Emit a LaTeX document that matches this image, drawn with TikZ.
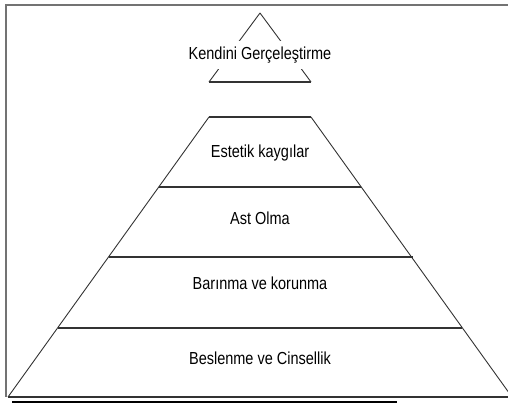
\documentclass[tikz,border=0pt]{standalone}
\usepackage{fontspec}
\setmainfont{Liberation Sans}
\newcommand{\tallText}[1]{\scalebox{1}[1.2]{#1}}

\begin{document}
\begin{tikzpicture}
[x=1pt,y=-1pt,
  framedecorate/.style={draw=black!55,line width=1.4pt},%
  rimdecorate/.style={-,draw=black!80,line width=1.4pt},%
  sidedecorate/.style={-,draw=black!80,line width=0.9pt},%
  labeldecorate/.style={font=\fontsize{14.5}{17}\selectfont,text=black,inner sep=0pt},%
  toplabeldecorate/.style={labeldecorate,fill=white,inner ysep=6pt,inner xsep=2pt}]
\useasboundingbox (0,0) rectangle (508,403);
\clip (0,0) rectangle (508,403);
%% frame
\draw[framedecorate] (508,5) -- (6,5) -- (6,397);
\draw[line width=3pt] (12,402) -- (397,402);
%% corners of the pyramid
\foreach \nodename/\x/\y in {
  %% top triangle
  t0/260/13, tl/209/82, tr/311/82,
  %% lower pyramid, left and right
  l1/209/117, r1/311/117, l2/159/187, r2/361/187,
  l3/109/257, r3/413/257, l4/58/328, r4/462/328,
  l5/8/397, r5/512/397}
{
  \coordinate (\nodename) at (\x,\y);
}
%% top triangle
\path
\foreach \startnode/\endnode in {t0/tl, t0/tr}
{
  (\startnode) edge[sidedecorate] (\endnode)
};
\draw[rimdecorate] (tl) -- (tr);
\node (kendini) at (260,55) [toplabeldecorate] {\tallText{Kendini Gerçeleştirme}};
%% lower pyramid
\draw[sidedecorate] (l1) -- (l5);
\draw[sidedecorate] (r1) -- (r5);
\path
\foreach \startnode/\endnode in {l1/r1, l2/r2, l3/r3, l4/r4, l5/r5}
{
  (\startnode) edge[rimdecorate] (\endnode)
};
%% levels
\foreach \nodename/\y/\text in {
  estetik/153/Estetik kaygılar, ast/218/Ast Olma,
  barinma/283/Barınma ve korunma, beslenme/358/Beslenme ve Cinsellik}
{
  \node (\nodename) at (260,\y) [labeldecorate] {\tallText{\text}};
}
\end{tikzpicture}
\end{document}
